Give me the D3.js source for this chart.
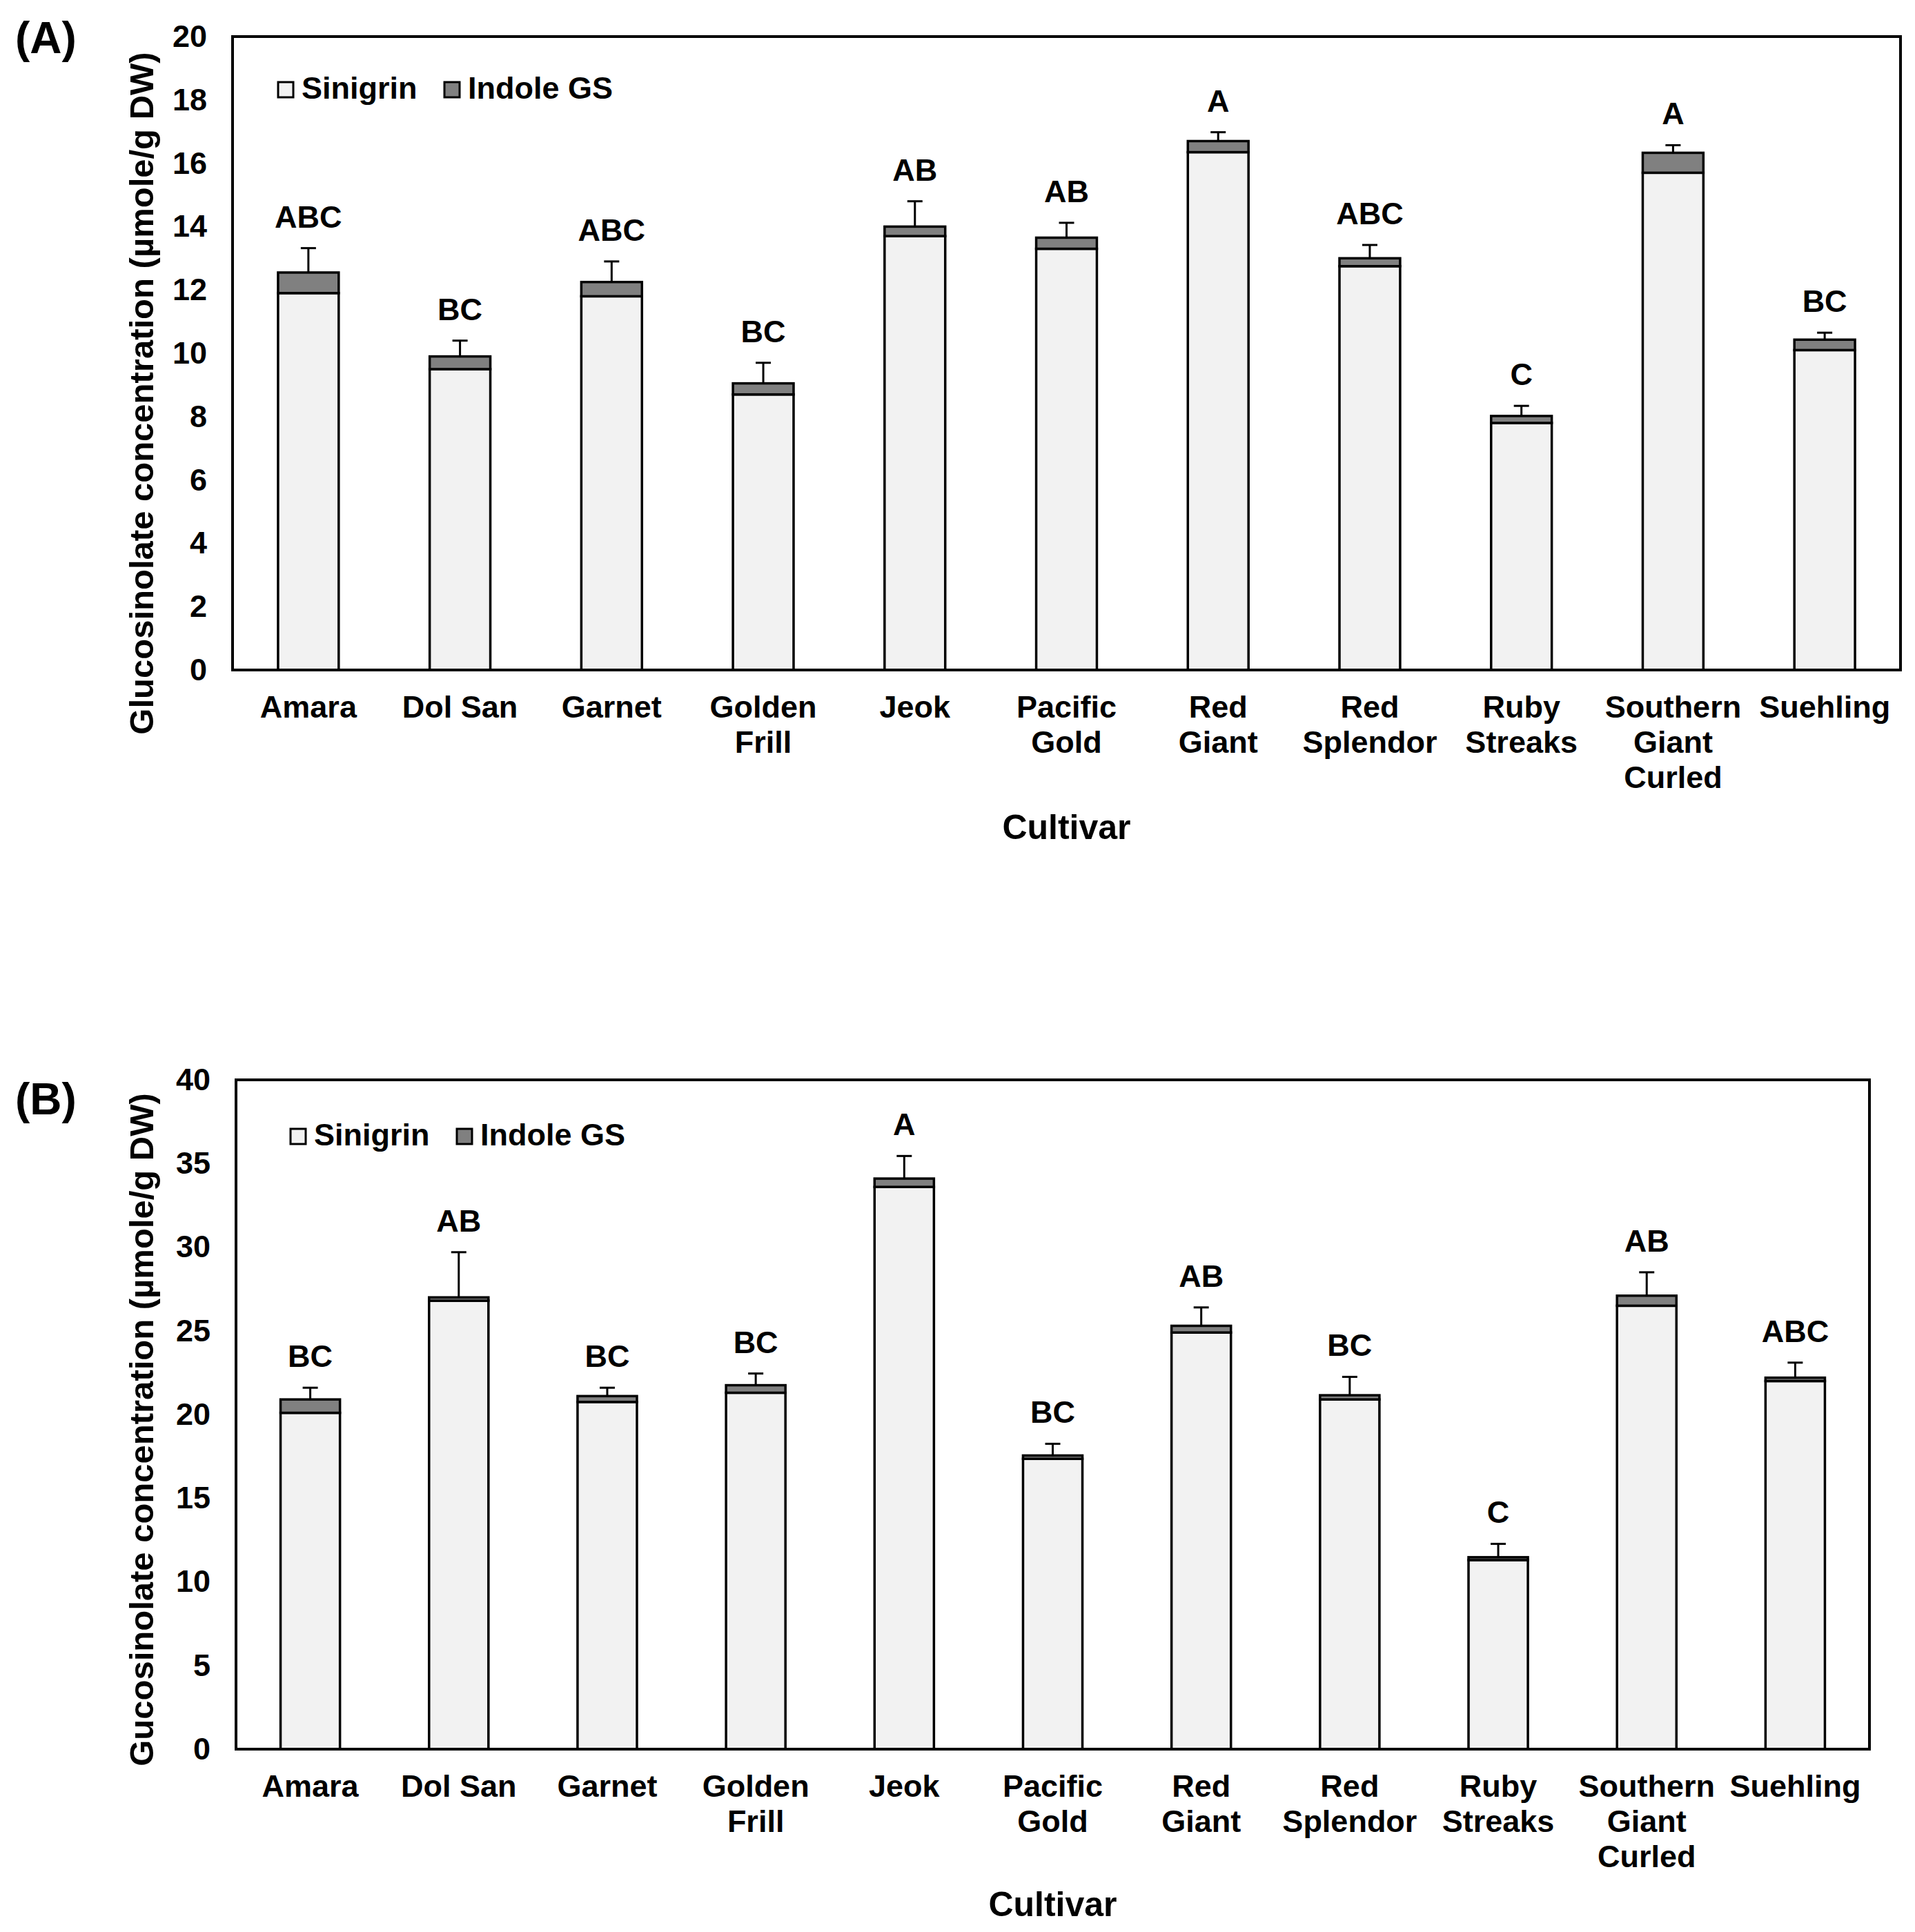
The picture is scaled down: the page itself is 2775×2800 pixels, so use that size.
<!DOCTYPE html>
<html>
<head>
<meta charset="utf-8">
<script src="https://cdn.jsdelivr.net/npm/d3@7"></script>
<style>
  body { margin: 0; background: #fff; }
  text { font-family: "Liberation Sans", Arial, sans-serif; font-weight: bold; fill: #000; }
</style>
</head>
<body>
<div id="chart"></div>
<script>
// cultivars and the line breaks used under the axis
const cultivars = ["Amara", "Dol San", "Garnet", "Golden Frill", "Jeok", "Pacific Gold",
  "Red Giant", "Red Splendor", "Ruby Streaks", "Southern Giant Curled", "Suehling"];
const tickLinesA = [["Amara"], ["Dol San"], ["Garnet"], ["Golden", "Frill"], ["Jeok"], ["Pacific", "Gold"],
  ["Red", "Giant"], ["Red", "Splendor"], ["Ruby", "Streaks"], ["Southern", "Giant", "Curled"], ["Suehling"]];
const tickLinesB = tickLinesA;

// panel A (µmole/g DW)
const sinigrinA = [11.9, 9.5, 11.8, 8.7, 13.7, 13.3, 16.35, 12.75, 7.8, 15.7, 10.1];
const indoleA   = [0.65, 0.4, 0.45, 0.35, 0.3, 0.35, 0.35, 0.25, 0.22, 0.63, 0.33];
const errA      = [0.77, 0.5, 0.65, 0.65, 0.8, 0.47, 0.28, 0.42, 0.32, 0.24, 0.22];
const lettersA  = ["ABC", "BC", "ABC", "BC", "AB", "AB", "A", "ABC", "C", "A", "BC"];
const yTicksA   = [0, 2, 4, 6, 8, 10, 12, 14, 16, 18, 20];

// panel B (µmole/g DW)
const sinigrinB = [20.1, 26.8, 20.75, 21.3, 33.6, 17.35, 24.9, 20.9, 11.3, 26.5, 22.0];
const indoleB   = [0.8, 0.2, 0.35, 0.45, 0.5, 0.2, 0.4, 0.25, 0.17, 0.6, 0.2];
const errB      = [0.7, 2.7, 0.5, 0.7, 1.35, 0.7, 1.1, 1.1, 0.8, 1.4, 0.9];
const lettersB  = ["BC", "AB", "BC", "BC", "A", "BC", "AB", "BC", "C", "AB", "ABC"];
const yTicksB   = [0, 5, 10, 15, 20, 25, 30, 35, 40];

const series = ["Sinigrin", "Indole GS"];
const fills = ["#f2f2f2", "#808080"];

const W = 2775, H = 2800;
const svg = d3.select("#chart").append("svg")
    .attr("width", W)
    .attr("height", H);

const panels = [
  { tag: "(A)", tagY: 77, top: 53, bottom: 971, left: 337, right: 2754,
    sin: sinigrinA, ind: indoleA, err: errA, letters: lettersA, ticks: yTicksA, lines: tickLinesA,
    title: "Glucosinolate concentration (\u00b5mole/g DW)", legendX: 403, legendY: 143, xTitleY: 1216 },
  { tag: "(B)", tagY: 1615, top: 1565, bottom: 2535, left: 342, right: 2709,
    sin: sinigrinB, ind: indoleB, err: errB, letters: lettersB, ticks: yTicksB, lines: tickLinesB,
    title: "Gucosinolate concentration (\u00b5mole/g DW)", legendX: 421, legendY: 1660, xTitleY: 2777 }
];

panels.forEach(p => {
  const g = svg.append("g");

  const x = d3.scaleBand()
      .domain(cultivars)
      .range([p.left, p.right])
      .paddingInner(0.6)
      .paddingOuter(0.3);

  const y = d3.scaleLinear()
      .domain([0, d3.max(p.ticks)])
      .range([p.bottom, p.top]);

  const rows = cultivars.map((c, i) => ({ cultivar: c, Sinigrin: p.sin[i], "Indole GS": p.ind[i] }));
  const stacked = d3.stack().keys(series)(rows);

  // stacked bars
  g.selectAll("g.layer")
    .data(stacked)
    .join("g")
      .attr("class", "layer")
      .attr("fill", (d, i) => fills[i])
    .selectAll("rect")
    .data(d => d)
    .join("rect")
      .attr("x", d => x(d.data.cultivar))
      .attr("y", d => y(d[1]))
      .attr("width", x.bandwidth())
      .attr("height", d => y(d[0]) - y(d[1]))
      .attr("stroke", "#000")
      .attr("stroke-width", 3.5);

  // error bars (upper only)
  const totals = cultivars.map((c, i) => p.sin[i] + p.ind[i]);
  const cx = c => x(c) + x.bandwidth() / 2;

  g.selectAll("line.err")
    .data(cultivars)
    .join("line")
      .attr("class", "err")
      .attr("x1", cx).attr("x2", cx)
      .attr("y1", (c, i) => y(totals[i]))
      .attr("y2", (c, i) => y(totals[i] + p.err[i]))
      .attr("stroke", "#000")
      .attr("stroke-width", 3);

  g.selectAll("line.cap")
    .data(cultivars)
    .join("line")
      .attr("class", "cap")
      .attr("x1", c => cx(c) - 11).attr("x2", c => cx(c) + 11)
      .attr("y1", (c, i) => y(totals[i] + p.err[i]))
      .attr("y2", (c, i) => y(totals[i] + p.err[i]))
      .attr("stroke", "#000")
      .attr("stroke-width", 3);

  // significance letters
  g.selectAll("text.letter")
    .data(cultivars)
    .join("text")
      .attr("class", "letter")
      .attr("x", cx)
      .attr("y", (c, i) => y(totals[i] + p.err[i]) - 30)
      .attr("text-anchor", "middle")
      .attr("font-size", "45px")
      .text((c, i) => p.letters[i]);

  // y axis, no tick marks
  const yAxis = g.append("g")
      .attr("transform", `translate(${p.left},0)`)
      .call(d3.axisLeft(y).tickValues(p.ticks).tickSize(0).tickPadding(37));
  yAxis.select(".domain").remove();
  yAxis.selectAll("text")
      .attr("font-size", "45px")
      .attr("font-family", "Liberation Sans, Arial, sans-serif")
      .attr("font-weight", "bold")
      .attr("fill", "#000");

  // x axis with wrapped labels
  const xAxis = g.append("g")
      .attr("transform", `translate(0,${p.bottom})`)
      .call(d3.axisBottom(x).tickSize(0));
  xAxis.select(".domain").remove();
  xAxis.selectAll(".tick text")
      .text(null)
      .attr("y", 69)
      .attr("dy", null)
      .attr("font-size", "45px")
      .attr("font-family", "Liberation Sans, Arial, sans-serif")
      .attr("font-weight", "bold")
      .attr("fill", "#000")
      .each(function(d) {
        const lines = p.lines[cultivars.indexOf(d)];
        d3.select(this).selectAll("tspan")
          .data(lines)
          .join("tspan")
            .attr("x", 0)
            .attr("dy", (l, i) => i === 0 ? 0 : 51)
            .text(l => l);
      });

  // frame
  g.append("rect")
      .attr("x", p.left)
      .attr("y", p.top)
      .attr("width", p.right - p.left)
      .attr("height", p.bottom - p.top)
      .attr("fill", "none")
      .attr("stroke", "#000")
      .attr("stroke-width", 4);

  // axis titles
  g.append("text")
      .attr("transform", `translate(222,${(p.top + p.bottom) / 2 + (p.tag === "(A)" ? 58 : 22)}) rotate(-90)`)
      .attr("text-anchor", "middle")
      .attr("font-size", "49px")
      .text(p.title);

  g.append("text")
      .attr("x", (p.left + p.right) / 2)
      .attr("y", p.xTitleY)
      .attr("text-anchor", "middle")
      .attr("font-size", "50px")
      .text("Cultivar");

  // panel tag
  g.append("text")
      .attr("x", 22)
      .attr("y", p.tagY)
      .attr("font-size", "64px")
      .text(p.tag);

  // legend
  const legend = g.append("g")
      .attr("transform", `translate(${p.legendX},${p.legendY})`);
  const offsets = [0, 241];
  series.forEach((s, i) => {
    legend.append("rect")
        .attr("x", offsets[i])
        .attr("y", -24)
        .attr("width", 22)
        .attr("height", 22)
        .attr("fill", fills[i])
        .attr("stroke", "#000")
        .attr("stroke-width", 3);
    legend.append("text")
        .attr("x", offsets[i] + 34)
        .attr("y", 0)
        .attr("font-size", "45px")
        .text(s);
  });
});
</script>
</body>
</html>
